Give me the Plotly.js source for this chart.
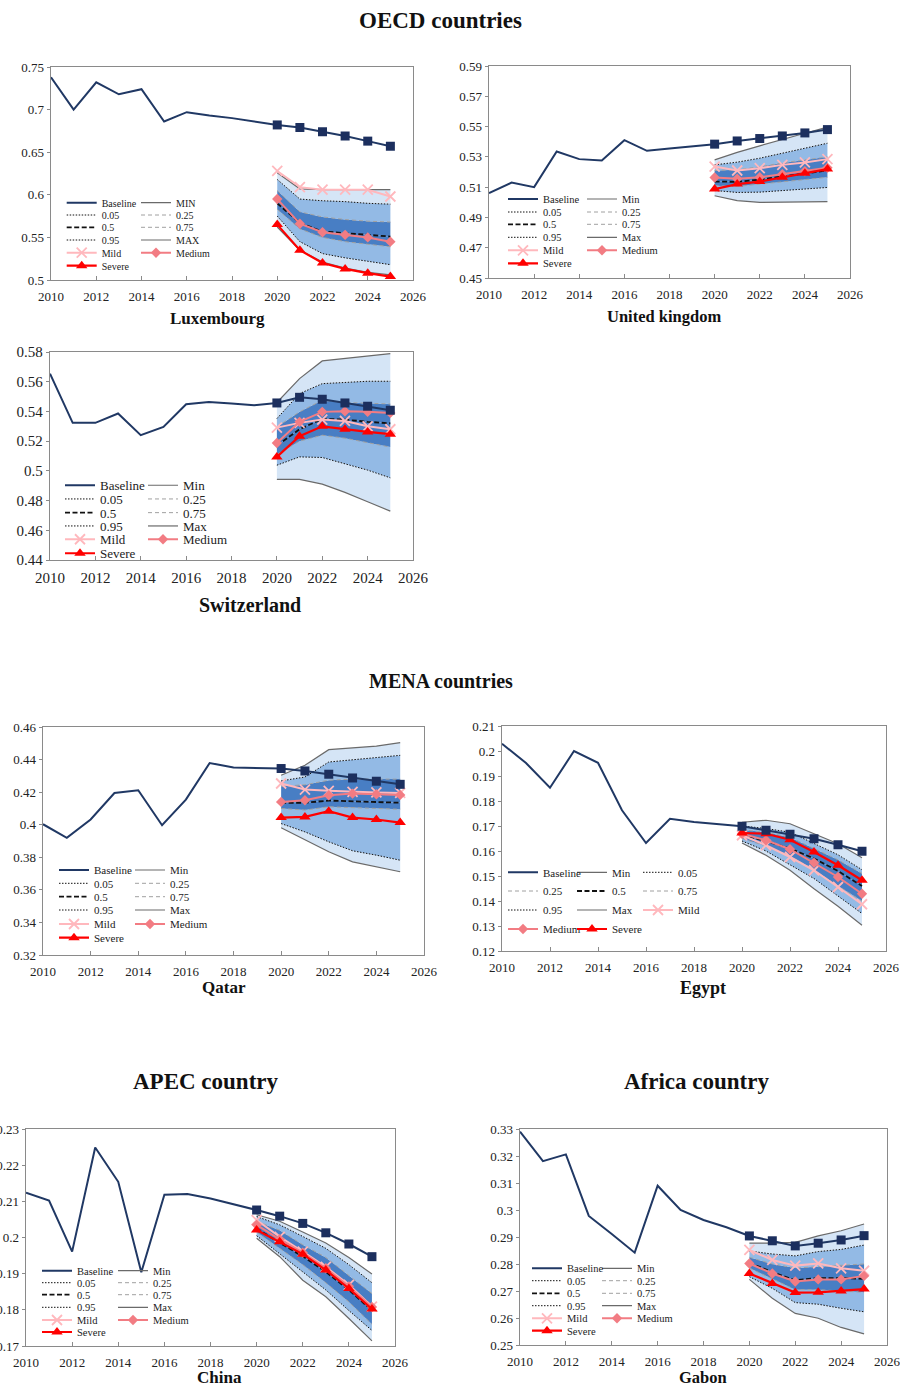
<!DOCTYPE html>
<html><head><meta charset="utf-8">
<script src="https://cdn.plot.ly/plotly-3.0.1.min.js"></script>
<style>body{margin:0;background:#fff}#chart{width:900px;height:1386px}</style>
</head><body><div id="chart"></div>
<script>
// ---------- DATA ----------
const years = [2010,2011,2012,2013,2014,2015,2016,2017,2018,2019,2020,2021,2022,2023,2024,2025];
const fYears = [2020,2021,2022,2023,2024,2025];

// Luxembourg
const luxBase = [0.738,0.700,0.732,0.718,0.724,0.686,0.697,0.693,0.690,0.686,0.682,0.679,0.674,0.669,0.663,0.657];
const luxHi  = [0.626,0.607,0.606,0.606,0.606,0.606];
const luxQ95 = [0.618,0.595,0.593,0.592,0.590,0.589];
const luxQ75 = [0.605,0.580,0.574,0.571,0.569,0.568];
const luxQ50 = [0.590,0.567,0.557,0.555,0.553,0.551];
const luxQ25 = [0.583,0.560,0.550,0.545,0.542,0.539];
const luxQ05 = [0.575,0.545,0.531,0.526,0.522,0.518];
const luxLo  = [0.562,0.535,0.521,0.514,0.509,0.506];
const luxMild   = [0.628,0.609,0.606,0.606,0.606,0.598];
const luxMedium = [0.595,0.566,0.556,0.553,0.550,0.545];
const luxSevere = [0.565,0.535,0.520,0.513,0.508,0.504];

// United kingdom
const ukBase = [0.506,0.513,0.510,0.5335,0.5285,0.5276,0.541,0.534,0.5355,0.537,0.5384,0.5405,0.5421,0.5438,0.5458,0.548];
const ukHi  = [0.528,0.533,0.5373,0.5416,0.5456,0.5496];
const ukQ95 = [0.5247,0.5265,0.5291,0.5324,0.5357,0.539];
const ukQ75 = [0.521,0.5215,0.5235,0.526,0.528,0.530];
const ukQ50 = [0.5137,0.5135,0.515,0.517,0.519,0.521];
const ukQ25 = [0.511,0.5105,0.512,0.5135,0.515,0.5165];
const ukQ05 = [0.5078,0.5065,0.5067,0.5078,0.5087,0.5098];
const ukLo  = [0.5043,0.5011,0.4999,0.5001,0.5001,0.5005];
const ukMild   = [0.5236,0.521,0.5225,0.5247,0.5263,0.5285];
const ukMedium = [0.5164,0.5155,0.5165,0.5185,0.5205,0.5228];
const ukSevere = [0.5087,0.512,0.5137,0.5166,0.5192,0.5219];

// Switzerland
const chBase = [0.5654,0.5323,0.5323,0.5386,0.524,0.5296,0.5448,0.5464,0.5453,0.5442,0.5457,0.5495,0.5482,0.5457,0.5435,0.5408];
const chHi  = [0.546,0.5621,0.574,0.5755,0.5773,0.5789];
const chQ95 = [0.5352,0.552,0.5587,0.5594,0.5603,0.5603];
const chQ75 = [0.5296,0.5397,0.5475,0.546,0.5455,0.545];
const chQ50 = [0.517,0.528,0.535,0.5345,0.533,0.532];
const chQ25 = [0.511,0.520,0.524,0.522,0.519,0.516];
const chQ05 = [0.5038,0.5094,0.509,0.505,0.5005,0.4953];
const chLo  = [0.4942,0.4942,0.4911,0.4855,0.4792,0.4729];
const chMild   = [0.5291,0.5323,0.5345,0.5336,0.530,0.528];
const chMedium = [0.5188,0.533,0.5397,0.5401,0.5397,0.539];
const chSevere = [0.5094,0.5233,0.530,0.528,0.5262,0.5247];

// Qatar
const qaBase = [0.4003,0.3919,0.4032,0.4195,0.4212,0.3997,0.4154,0.4379,0.4351,0.435,0.4345,0.433,0.431,0.4287,0.4267,0.4248];
const qaHi  = [0.4304,0.4365,0.4461,0.4471,0.4483,0.4504];
const qaQ95 = [0.4269,0.4293,0.4385,0.440,0.4412,0.4426];
const qaQ75 = [0.4236,0.4245,0.4273,0.428,0.428,0.428];
const qaQ50 = [0.4135,0.4135,0.4148,0.4145,0.414,0.4135];
const qaQ25 = [0.410,0.409,0.411,0.4105,0.410,0.4095];
const qaQ05 = [0.4007,0.3956,0.3895,0.384,0.3813,0.3782];
const qaLo  = [0.3981,0.3909,0.3834,0.3772,0.3742,0.3711];
const qaMild   = [0.4253,0.4216,0.4208,0.4201,0.4198,0.4195];
const qaMedium = [0.414,0.415,0.4181,0.4191,0.4187,0.4183];
const qaSevere = [0.4044,0.4048,0.4083,0.4044,0.4032,0.4013];

// Egypt
const egBase = [0.2029,0.1952,0.1853,0.2,0.1953,0.1763,0.1632,0.1729,0.1716,0.1709,0.1699,0.1683,0.1667,0.1649,0.1625,0.1599];
const egHi  = [0.1715,0.1723,0.1709,0.1669,0.1629,0.1573];
const egQ95 = [0.170,0.169,0.1675,0.163,0.1585,0.1525];
const egQ75 = [0.1685,0.1675,0.1655,0.161,0.1565,0.151];
const egQ50 = [0.1665,0.164,0.161,0.157,0.152,0.146];
const egQ25 = [0.165,0.162,0.158,0.1525,0.146,0.140];
const egQ05 = [0.164,0.160,0.1545,0.149,0.142,0.135];
const egLo  = [0.1632,0.1583,0.1523,0.1449,0.1379,0.1303];
const egMild   = [0.1663,0.1623,0.1576,0.1523,0.1456,0.1387];
const egMedium = [0.1669,0.1643,0.1607,0.1553,0.1496,0.1429];
const egSevere = [0.1672,0.1669,0.1645,0.1596,0.1543,0.1483];

// China
const cnBase = [0.2124,0.2102,0.1961,0.2249,0.2154,0.1904,0.2118,0.212,0.2108,0.2093,0.2076,0.2059,0.2039,0.2013,0.1982,0.1947];
const cnHi  = [0.2063,0.2045,0.2015,0.1985,0.1945,0.1899];
const cnQ95 = [0.2058,0.2035,0.2003,0.197,0.1925,0.1875];
const cnQ75 = [0.2045,0.202,0.198,0.1945,0.1895,0.1845];
const cnQ50 = [0.2025,0.1985,0.1948,0.1905,0.1855,0.1798];
const cnQ25 = [0.2015,0.197,0.1925,0.1875,0.1822,0.176];
const cnQ05 = [0.2005,0.1955,0.1905,0.1855,0.1798,0.1743];
const cnLo  = [0.1998,0.1947,0.1882,0.1836,0.1776,0.1714];
const cnMild   = [0.2048,0.2002,0.1961,0.1919,0.1869,0.1809];
const cnMedium = [0.2035,0.1995,0.1958,0.1915,0.1865,0.1808];
const cnSevere = [0.2021,0.1988,0.1954,0.191,0.1859,0.1802];

// Gabon
const gaBase = [0.329,0.3181,0.3206,0.2978,0.2911,0.2842,0.309,0.300,0.2963,0.2936,0.2904,0.2886,0.2867,0.2877,0.2889,0.2905];
const gaHi  = [0.2877,0.2877,0.288,0.2904,0.2923,0.2948];
const gaQ95 = [0.2848,0.2837,0.283,0.2846,0.2854,0.287];
const gaQ75 = [0.2825,0.280,0.2785,0.279,0.2795,0.280];
const gaQ50 = [0.2805,0.277,0.274,0.2748,0.2748,0.2745];
const gaQ25 = [0.2785,0.2745,0.2705,0.2705,0.270,0.2695];
const gaQ05 = [0.2753,0.271,0.2657,0.2651,0.2636,0.2623];
const gaLo  = [0.2743,0.2673,0.2617,0.2599,0.2565,0.2541];
const gaMild   = [0.2852,0.2815,0.2794,0.2802,0.2784,0.2775];
const gaMedium = [0.2802,0.2765,0.2735,0.2743,0.2743,0.2756];
const gaSevere = [0.2765,0.2728,0.2694,0.2695,0.270,0.2707];

const groupTitles = ['OECD countries','MENA countries','APEC country','Africa country'];
const panelNames = ['Luxembourg','United kingdom','Switzerland','Qatar','Egypt','China','Gabon'];

// ---------- PANELS (layout settings) ----------
const panels = [
  {name:panelNames[0], d:{base:luxBase,hi:luxHi,q95:luxQ95,q75:luxQ75,q50:luxQ50,q25:luxQ25,q05:luxQ05,lo:luxLo,mild:luxMild,medium:luxMedium,severe:luxSevere},
   px:[51,413,67,280], yr:[0.5,0.75], dt:0.05, tf:13, tt:[217,319,17],
   lg:{rows:[202.7,215,227.3,240,252.7,265.7], cols:[101.7,176], f:10}, minL:'MIN', maxL:'MAX', three:false},
  {name:panelNames[1], d:{base:ukBase,hi:ukHi,q95:ukQ95,q75:ukQ75,q50:ukQ50,q25:ukQ25,q05:ukQ05,lo:ukLo,mild:ukMild,medium:ukMedium,severe:ukSevere},
   px:[489,850,66,278], yr:[0.45,0.59], dt:0.02, tf:13, tt:[664,317,16.5],
   lg:{rows:[199,212,224.3,237.3,250.3,263.3], cols:[543,622], f:10.5}, minL:'Min', maxL:'Max', three:false},
  {name:panelNames[2], d:{base:chBase,hi:chHi,q95:chQ95,q75:chQ75,q50:chQ50,q25:chQ25,q05:chQ05,lo:chLo,mild:chMild,medium:chMedium,severe:chSevere},
   px:[50,413,352,560], yr:[0.44,0.58], dt:0.02, tf:15, tt:[250,605,20],
   lg:{rows:[485.3,499,512.7,526,539.3,553.3], cols:[100,183], f:13}, minL:'Min', maxL:'Max', three:false},
  {name:panelNames[3], d:{base:qaBase,hi:qaHi,q95:qaQ95,q75:qaQ75,q50:qaQ50,q25:qaQ25,q05:qaQ05,lo:qaLo,mild:qaMild,medium:qaMedium,severe:qaSevere},
   px:[43,424,727,955], yr:[0.32,0.46], dt:0.02, tf:13, tt:[224,987,17],
   lg:{rows:[870,883.3,896.7,910,924,937.7], cols:[94,170], f:11}, minL:'Min', maxL:'Max', three:false},
  {name:panelNames[4], d:{base:egBase,hi:egHi,q95:egQ95,q75:egQ75,q50:egQ50,q25:egQ25,q05:egQ05,lo:egLo,mild:egMild,medium:egMedium,severe:egSevere},
   px:[502,886,726,951], yr:[0.12,0.21], dt:0.01, tf:13, tt:[703,988,18],
   lg:{rows:[872.3,891,910,929], cols:[543,612,678], f:11}, minL:'Min', maxL:'Max', three:true},
  {name:panelNames[5], d:{base:cnBase,hi:cnHi,q95:cnQ95,q75:cnQ75,q50:cnQ50,q25:cnQ25,q05:cnQ05,lo:cnLo,mild:cnMild,medium:cnMedium,severe:cnSevere},
   px:[26,395,1129,1346], yr:[0.17,0.23], dt:0.01, tf:13, tt:[219,1377,17],
   lg:{rows:[1270.7,1282.7,1294.7,1307.3,1320,1332], cols:[77,153], f:10.5}, minL:'Min', maxL:'Max', three:false},
  {name:panelNames[6], d:{base:gaBase,hi:gaHi,q95:gaQ95,q75:gaQ75,q50:gaQ50,q25:gaQ25,q05:gaQ05,lo:gaLo,mild:gaMild,medium:gaMedium,severe:gaSevere},
   px:[520,887,1129,1345], yr:[0.25,0.33], dt:0.01, tf:13, tt:[703,1377,16.5],
   lg:{rows:[1268.3,1280.7,1293.3,1305.7,1318.3,1330.7], cols:[567,637], f:10.5}, minL:'Min', maxL:'Max', three:false}
];

const W = 900, H = 1386;
const FONT = 'Liberation Serif';
const bandColors = [null,'rgba(208,226,245,0.9)','rgba(135,178,226,0.9)','rgba(52,112,190,0.9)','rgba(52,112,190,0.9)','rgba(135,178,226,0.9)','rgba(208,226,245,0.9)'];

const styles = {
  lo:  {line:{color:'#6a6a6a', width:1.2}},
  hi:  {line:{color:'#6a6a6a', width:1.2}},
  q05: {line:{color:'#111', width:1, dash:'1.5px,1.5px'}},
  q95: {line:{color:'#111', width:1, dash:'1.5px,1.5px'}},
  q25: {line:{color:'#a0a0a0', width:1, dash:'4px,3px'}},
  q75: {line:{color:'#a0a0a0', width:1, dash:'4px,3px'}},
  q50: {line:{color:'#111', width:1.8, dash:'5px,2.5px'}},
  base:{line:{color:'#203864', width:2}},
  mild:{line:{color:'#ffb8bd', width:2}, marker:{symbol:'x-thin', size:10, color:'#ffb8bd', line:{color:'#ffb8bd', width:1.8}}},
  medium:{line:{color:'#f27c83', width:2}, marker:{symbol:'diamond', size:8, color:'#f27c83'}},
  severe:{line:{color:'#ff0000', width:2.2}, marker:{symbol:'triangle-up', size:10, color:'#ff0000'}}
};

const traces = [];
const layout = {
  width: W, height: H, margin:{l:0,r:0,t:0,b:0}, showlegend:true,
  paper_bgcolor:'#fff', plot_bgcolor:'#fff',
  font:{family:FONT, color:'#222'},
  annotations: []
};

let legendCount = 0;
function legendId(){ legendCount++; return legendCount===1 ? 'legend' : 'legend'+legendCount; }

panels.forEach((p, i) => {
  const s = i===0 ? '' : String(i+1);
  const xa = 'x'+s, ya = 'y'+s;
  const [l, r, t, b] = p.px;
  layout['xaxis'+s] = {
    domain:[l/W, r/W], anchor:ya, range:[2010,2026], tick0:2010, dtick:2,
    showgrid:false, zeroline:false, showline:true, mirror:true, linecolor:'#8a8a8a', linewidth:1.3,
    ticks:'inside', ticklen:4, tickcolor:'#8a8a8a', ticklabelstandoff:4, ticklabeloverflow:'allow',
    tickfont:{family:FONT, size:p.tf, color:'#222'}
  };
  layout['yaxis'+s] = {
    domain:[1-b/H, 1-t/H], anchor:xa, range:p.yr, tick0:p.yr[0], dtick:p.dt,
    showgrid:false, zeroline:false, showline:true, mirror:true, linecolor:'#8a8a8a', linewidth:1.3,
    ticks:'outside', ticklen:3, tickcolor:'#8a8a8a', ticklabeloverflow:'allow',
    tickfont:{family:FONT, size:p.tf, color:'#222'}
  };
  const d = p.d;
  // fan bands
  const bounds = ['lo','q05','q25','q50','q75','q95','hi'];
  bounds.forEach((k, j) => {
    traces.push({x:fYears, y:d[k], xaxis:xa, yaxis:ya, mode:'lines', line:{width:0},
      fill: j===0 ? 'none' : 'tonexty', fillcolor: bandColors[j] || undefined,
      showlegend:false, hoverinfo:'skip'});
  });
  // legend entries
  const labels = {base:'Baseline', q05:'0.05', q50:'0.5', q95:'0.95', mild:'Mild', severe:'Severe',
                  lo:p.minL, q25:'0.25', q75:'0.75', hi:p.maxL, medium:'Medium'};
  let order, pos = {};
  if (p.three) {
    order = ['base','lo','q05','q25','q50','q75','q95','hi','mild','medium','severe'];
    order.forEach((k, n) => { pos[k] = [Math.floor(n/3), n%3]; });
  } else {
    const c1 = ['base','q05','q50','q95','mild','severe'];
    const c2 = ['lo','q25','q75','hi','medium'];
    c1.forEach((k, n) => { pos[k] = [n, 0]; });
    c2.forEach((k, n) => { pos[k] = [n, 1]; });
  }
  const legFor = (k) => {
    const id = legendId();
    const [row, col] = pos[k];
    layout[id] = {x:(p.lg.cols[col]-40)/W, y:1-p.lg.rows[row]/H, xanchor:'left', yanchor:'middle',
      bgcolor:'rgba(0,0,0,0)', borderwidth:0, orientation:'v',
      font:{family:FONT, size:p.lg.f, color:'#222'}};
    return id;
  };
  // quantile lines
  ['lo','q05','q25','q50','q75','q95','hi'].forEach(k => {
    traces.push(Object.assign({x:fYears, y:d[k], xaxis:xa, yaxis:ya, mode:'lines', name:labels[k],
      legend:legFor(k), hoverinfo:'skip'}, JSON.parse(JSON.stringify(styles[k]))));
  });
  // baseline
  traces.push({x:years, y:d.base, xaxis:xa, yaxis:ya, mode:'lines', name:'Baseline', legend:legFor('base'),
    line:styles.base.line});
  // scenarios
  ['mild','medium','severe'].forEach(k => {
    traces.push(Object.assign({x:fYears, y:d[k], xaxis:xa, yaxis:ya, mode:'lines+markers', name:labels[k],
      legend:legFor(k)}, JSON.parse(JSON.stringify(styles[k]))));
  });
  // baseline projection markers
  const fx = [], fy = [];
  years.forEach((yv, n) => { if (yv >= 2020) { fx.push(yv); fy.push(d.base[n]); } });
  traces.push({x:fx, y:fy, xaxis:xa, yaxis:ya, mode:'markers', showlegend:false,
    marker:{symbol:'square', size:9, color:'#1c2f5e'}});
  // panel title
  layout.annotations.push({text:'<b>'+p.name+'</b>', xref:'paper', yref:'paper', x:p.tt[0]/W, y:1-p.tt[1]/H,
    xanchor:'center', yanchor:'middle', showarrow:false, font:{family:FONT, size:p.tt[2], color:'#111'}});
});

// group titles
const gt = [[440,20,23],[441,681,20],[206,1081,23],[696,1081,23]];
groupTitles.forEach((txt, i) => {
  layout.annotations.push({text:'<b>'+txt+'</b>', xref:'paper', yref:'paper', x:gt[i][0]/W, y:1-gt[i][1]/H,
    xanchor:'center', yanchor:'middle', showarrow:false, font:{family:FONT, size:gt[i][2], color:'#111'}});
});

Plotly.newPlot('chart', traces, layout, {staticPlot:true});
</script>
</body></html>
